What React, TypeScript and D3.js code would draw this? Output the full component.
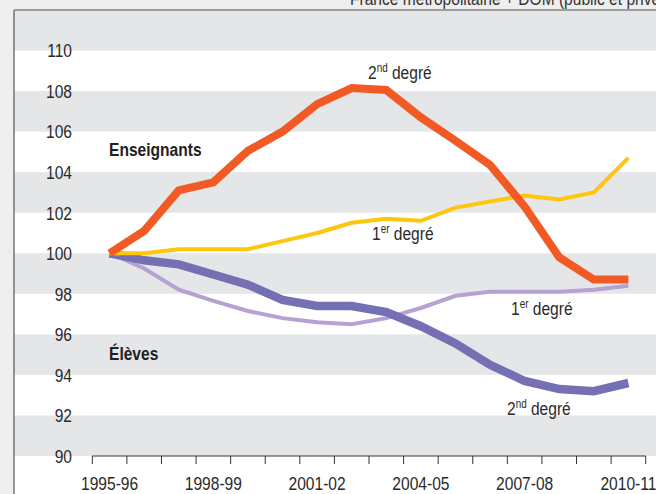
import React from "react";
import * as d3 from "d3";

const years = [
  "1995-96", "1996-97", "1997-98", "1998-99", "1999-00", "2000-01", "2001-02", "2002-03",
  "2003-04", "2004-05", "2005-06", "2006-07", "2007-08", "2008-09", "2009-10", "2010-11",
];
const tickLabels = ["1995-96", "1998-99", "2001-02", "2004-05", "2007-08", "2010-11"];
const yTicks = [90, 92, 94, 96, 98, 100, 102, 104, 106, 108, 110];

const enseignants2nd = [100, 101.1, 103.1, 103.5, 105.05, 106.0, 107.35, 108.15, 108.05, 106.7, 105.55, 104.35, 102.3, 99.8, 98.7, 98.7];
const enseignants1er = [100, 100.0, 100.2, 100.2, 100.2, 100.6, 101.0, 101.5, 101.7, 101.6, 102.25, 102.55, 102.85, 102.65, 103.0, 104.7];
const eleves1er = [100, 99.25, 98.2, 97.65, 97.15, 96.8, 96.6, 96.5, 96.8, 97.3, 97.9, 98.1, 98.1, 98.1, 98.2, 98.4];
const eleves2nd = [100, 99.65, 99.45, 98.95, 98.45, 97.7, 97.4, 97.4, 97.1, 96.4, 95.55, 94.5, 93.7, 93.3, 93.2, 93.6];

const W = 656;
const H = 494;
const FONT = "'Liberation Sans', Arial, sans-serif";
const SX = 0.82;

type NTProps = {
  x: number;
  y: number;
  size?: number;
  anchor?: "start" | "middle" | "end";
  weight?: string;
  fill?: string;
  dy?: string;
  children: React.ReactNode;
};

function NText({ x, y, size = 19, anchor = "start", weight = "normal", fill = "#2a2a2a", dy, children }: NTProps) {
  return (
    <g transform={`translate(${x},${y}) scale(${SX},1)`}>
      <text
        x={0}
        y={0}
        dy={dy}
        textAnchor={anchor}
        fontFamily={FONT}
        fontSize={size}
        fontWeight={weight}
        fill={fill}
      >
        {children}
      </text>
    </g>
  );
}

export default function App() {
  const x = d3.scaleBand<string>().domain(years).range([92.3, 645.7]).padding(0);
  const y = d3.scaleLinear().domain([90, 110]).range([456, 50.5]);
  const cx = (i: number) => (x(years[i]) as number) + x.bandwidth() / 2;
  const line = d3
    .line<number>()
    .x((_, i) => cx(i))
    .y((d) => y(d));

  const bandStarts = [90, 94, 98, 102, 106, 110];
  const tickPositions = years.map((yr) => x(yr) as number).concat([x.range()[1]]);

  const sup = (base: string, s: string, rest: string, tx: number, ty: number) => (
    <NText x={tx} y={ty}>
      {base}
      <tspan fontSize={12} dy={-7}>{s}</tspan>
      <tspan dy={7}>{rest}</tspan>
    </NText>
  );

  return (
    <svg
      width={W}
      height={H}
      style={{ position: "absolute", left: 0, top: 0, display: "block" }}
    >
      <rect x={0} y={0} width={W} height={H} fill="#eeeeee" />
      <rect x={14} y={10} width={W - 14} height={H - 10} fill="#ffffff" />
      {bandStarts.map((b) => (
        <rect
          key={b}
          x={14}
          y={y(b + 2)}
          width={W - 14}
          height={y(b) - y(b + 2)}
          fill="#e5e6e7"
        />
      ))}
      <line x1={14} y1={10} x2={W} y2={10} stroke="#555" strokeWidth={1.2} />
      <line x1={14} y1={10} x2={14} y2={H} stroke="#555" strokeWidth={1.2} />
      <NText x={350} y={5} size={19} fill="#333">
        France métropolitaine + DOM (public et privé)
      </NText>

      {yTicks.map((t) => (
        <NText key={t} x={72} y={y(t)} dy="0.36em" anchor="end">
          {t}
        </NText>
      ))}

      <line x1={x.range()[0]} x2={x.range()[1]} y1={456} y2={456} stroke="#333" strokeWidth={1} />
      {tickPositions.map((p, i) => (
        <line key={i} x1={p} x2={p} y1={456} y2={464} stroke="#333" strokeWidth={1} />
      ))}
      {tickLabels.map((t) => (
        <NText key={t} x={(x(t) as number) + x.bandwidth() / 2} y={490} anchor="middle">
          {t}
        </NText>
      ))}

      <path d={line(eleves1er) || ""} fill="none" stroke="#b4a2d2" strokeWidth={4} />
      <path d={line(eleves2nd) || ""} fill="none" stroke="#7570b4" strokeWidth={8.5} />
      <path d={line(enseignants1er) || ""} fill="none" stroke="#fec60c" strokeWidth={4} />
      <path d={line(enseignants2nd) || ""} fill="none" stroke="#f15a24" strokeWidth={8} />

      <NText x={109} y={156} weight="bold" fill="#231f20">
        Enseignants
      </NText>
      <NText x={109} y={360} weight="bold" fill="#231f20">
        Élèves
      </NText>
      {sup("2", "nd", " degré", 368, 79)}
      {sup("1", "er", " degré", 372, 240)}
      {sup("1", "er", " degré", 511, 315)}
      {sup("2", "nd", " degré", 507, 415)}
    </svg>
  );
}
